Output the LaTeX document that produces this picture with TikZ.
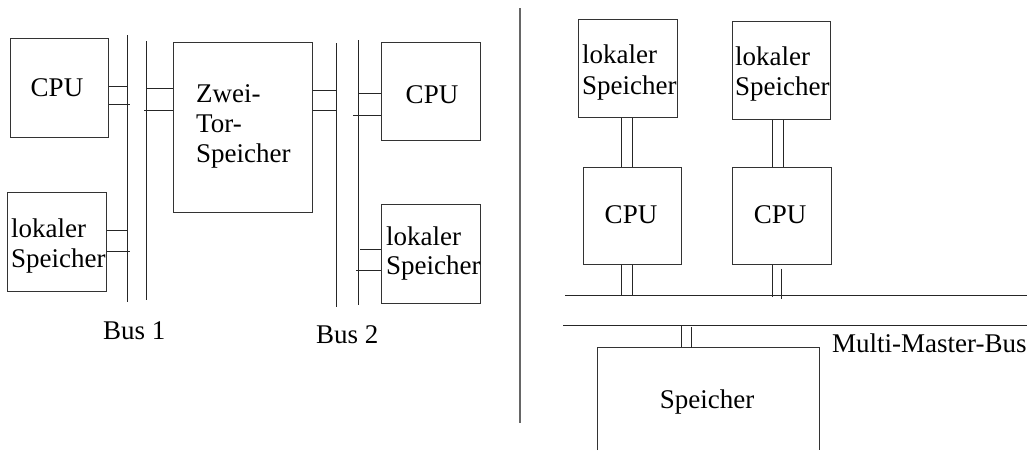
\documentclass[tikz,border=0pt]{standalone}
\usepackage{fontspec}
\setmainfont{Liberation Serif}
\usetikzlibrary{fit}
\begin{document}
\begin{tikzpicture}[x=1pt,y=-1pt,
  box/.style={draw=black!80, line width=1pt, inner sep=0pt},
  wire/.style={draw=black!85, line width=1pt},
  lbl/.style={inner sep=0pt, font=\fontsize{27}{31}\selectfont},
  lblw/.style={lbl, anchor=base west},
  lblc/.style={lbl, anchor=base}]
\useasboundingbox (0,0) rectangle (1027,450);

% ---------- two-bus system with dual-port memory ----------
\coordinate (b1a) at (127,35);  \coordinate (b1ae) at (127,302);
\coordinate (b1b) at (146,41);  \coordinate (b1be) at (146,300);
\coordinate (b2a) at (336,43);  \coordinate (b2ae) at (336,307);
\coordinate (b2b) at (358,40);  \coordinate (b2be) at (358,305);
\draw[wire] (b1a) -- (b1ae);
\draw[wire] (b1b) -- (b1be);
\draw[wire] (b2a) -- (b2ae);
\draw[wire] (b2b) -- (b2be);

\node[box, fit={(10,38) (108,137)}] (cpuA) {};
\node[lblc] at (57,96) {CPU};
\node[box, fit={(7,192) (106,291)}] (lsA) {};
\node[lblw] at (11,237) {lokaler};
\node[lblw] at (11,267) {Speicher};

\node[box, fit={(173,42) (312,212)}] (zt) {};
\node[lblw] at (196,102) {Zwei-};
\node[lblw] at (196,132) {Tor-};
\node[lblw] at (196,162) {Speicher};

\node[box, fit={(381,42) (480,140)}] (cpuB) {};
\node[lblc] at (432,103) {CPU};
\node[box, fit={(381,204) (480,303)}] (lsB) {};
\node[lblw] at (386,245) {lokaler};
\node[lblw] at (386,274) {Speicher};

% bus taps
\draw[wire] (cpuA.east |- 0,86) -- (b1a |- 0,86);
\draw[wire] (cpuA.east |- 0,104) -- ([xshift=3]b1a |- 0,104);
\draw[wire] (lsA.east |- 0,230) -- (b1a |- 0,230);
\draw[wire] (lsA.east |- 0,251) -- ([xshift=3]b1a |- 0,251);
\draw[wire] (b1b |- 0,88) -- (zt.west |- 0,88);
\draw[wire] ([xshift=-2]b1b |- 0,110) -- (zt.west |- 0,110);
\draw[wire] (zt.east |- 0,90) -- (b2a |- 0,90);
\draw[wire] (zt.east |- 0,110) -- (b2a |- 0,110);
\draw[wire] (b2b |- 0,93) -- (cpuB.west |- 0,93);
\draw[wire] ([xshift=-5]b2b |- 0,115) -- (cpuB.west |- 0,115);
\draw[wire] ([xshift=2]b2b |- 0,249) -- (lsB.west |- 0,249);
\draw[wire] ([xshift=-2]b2b |- 0,270) -- (lsB.west |- 0,270);

\node[lblw] (bus1) at (103,339) {Bus 1};
\node[lblw] (bus2) at (316,343) {Bus 2};

% separator
\coordinate (sepT) at (520,8);
\coordinate (sepB) at (520,423);
\draw[draw=black!60, line width=1.3pt] (sepT) -- (sepB);

% ---------- multi-master bus system ----------
\node[box, fit={(578,19) (677,117)}] (lsC) {};
\node[lblw] at (582,63) {lokaler};
\node[lblw] at (582,94) {Speicher};
\node[box, fit={(732,21) (830,119)}] (lsD) {};
\node[lblw] at (735,65) {lokaler};
\node[lblw] at (735,95) {Speicher};

\node[box, fit={(583,167) (681,264)}] (cpuC) {};
\node[lblc] at (631,223) {CPU};
\node[box, fit={(732,167) (831,264)}] (cpuD) {};
\node[lblc] at (780,223) {CPU};

\coordinate (mbA) at (565,295);  \coordinate (mbAe) at (1027,295);
\coordinate (mbB) at (563,325);  \coordinate (mbBe) at (1027,325);
\draw[wire] (mbA) -- (mbAe);
\draw[wire] (mbB) -- (mbBe);

% local memory to CPU
\draw[wire] (lsC.south -| 621,0) -- (cpuC.north -| 621,0);
\draw[wire] (lsC.south -| 632,0) -- (cpuC.north -| 632,0);
\draw[wire] (lsD.south -| 772,0) -- (cpuD.north -| 772,0);
\draw[wire] (lsD.south -| 783,0) -- (cpuD.north -| 783,0);
% CPU to upper bus line
\draw[wire] (cpuC.south -| 621,0) -- (mbA -| 621,0);
\draw[wire] (cpuC.south -| 632,0) -- (mbA -| 632,0);
\draw[wire] (cpuD.south -| 772,0) -- ([yshift=-2]mbA -| 772,0);
\draw[wire] ([yshift=-4]cpuD.south -| 781,0) -- ([yshift=-4]mbA -| 781,0);

% shared memory, open at the bottom
\coordinate (spBL) at (597,450);
\coordinate (spBR) at (819,450);
\coordinate (spTL) at (597,347);
\coordinate (spTR) at (819,347);
\draw[draw=black!80, line width=1pt] (spBL) -- (spTL) -- (spTR) -- (spBR);
\node[lblc] (sp) at (707,408) {Speicher};
\draw[wire] (mbB -| 681,0) -- (spTL -| 681,0);
\draw[wire] ([yshift=-2]mbB -| 691,0) -- ([yshift=-1]spTL -| 691,0);

\node[lblw] (mmb) at (832,352) {Multi-Master-Bus};
\end{tikzpicture}
\end{document}
